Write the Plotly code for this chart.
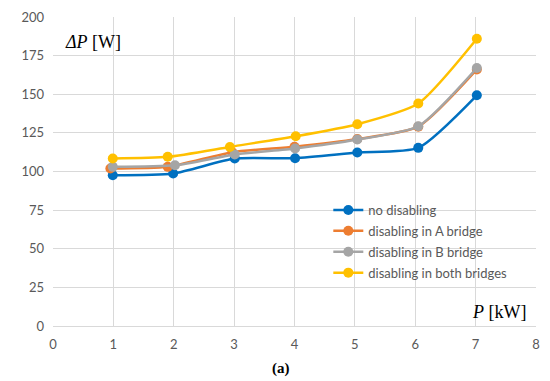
import plotly.graph_objects as go

series_names = ["no disabling", "disabling in A bridge", "disabling in B bridge", "disabling in both bridges"]
x_none = [0.99, 1.99, 3.01, 4.01, 5.04, 6.05, 7.02]
y_none = [97.6, 98.7, 108.4, 108.6, 112.3, 115.3, 149.3]
x_a = [0.95, 1.90, 2.97, 4.00, 5.04, 6.05, 7.02]
y_a = [101.9, 103.0, 112.5, 116.0, 121.0, 129.0, 166.0]
x_b = [0.99, 2.02, 3.01, 4.01, 5.04, 6.05, 7.02]
y_b = [103.0, 104.0, 111.0, 114.9, 120.7, 129.3, 167.0]
x_both = [0.99, 1.90, 2.93, 4.02, 5.04, 6.05, 7.02]
y_both = [108.4, 109.5, 115.9, 122.8, 130.6, 144.0, 185.9]
colors = ["#0070C0", "#ED7D31", "#A5A5A5", "#FFC000"]
x_ticks = [0, 1, 2, 3, 4, 5, 6, 7, 8]
y_ticks = [0, 25, 50, 75, 100, 125, 150, 175, 200]

fig = go.Figure()
for i, (xs, ys) in enumerate([(x_none, y_none), (x_a, y_a), (x_b, y_b), (x_both, y_both)]):
    fig.add_trace(go.Scatter(
        x=xs, y=ys, name=series_names[i], mode="lines+markers",
        line=dict(color=colors[i], width=2.5, shape="spline", smoothing=0.6),
        marker=dict(color=colors[i], size=10),
        legendgroup=str(i),
    ))

grid = "#D9D9D9"
font_col = "#595959"
fig.update_layout(
    width=542, height=373,
    margin=dict(l=45, r=14, t=9, b=55),
    paper_bgcolor="white", plot_bgcolor="white",
    font=dict(family="Lato, Open Sans, sans-serif", size=13, color=font_col),
    showlegend=True,
    legend=dict(x=0.57, y=0.424, xanchor="left", yanchor="top",
                bgcolor="rgba(0,0,0,0)", tracegroupgap=1,
                font=dict(size=13, color=font_col)),
    xaxis=dict(range=[0, 8], tickvals=x_ticks, showgrid=True, gridcolor=grid, gridwidth=1,
               zeroline=False, showline=True, linecolor=grid, linewidth=1, mirror=False,
               ticks="", ticklabelstandoff=6, automargin=False,
               tickfont=dict(size=13, color=font_col)),
    yaxis=dict(range=[0, 200], tickvals=y_ticks, showgrid=True, gridcolor=grid, gridwidth=1,
               zeroline=False, showline=False, ticks="", ticklabelstandoff=8, automargin=False,
               tickfont=dict(size=13, color=font_col)),
    annotations=[
        dict(text="<i>ΔP</i> [W]", xref="paper", yref="paper", x=0.021, y=0.919,
             xanchor="left", yanchor="middle", showarrow=False,
             font=dict(family="Liberation Serif, serif", size=18, color="black")),
        dict(text="<i>P</i> [kW]", xref="paper", yref="paper", x=0.983, y=0.046,
             xanchor="right", yanchor="middle", showarrow=False,
             font=dict(family="Liberation Serif, serif", size=18, color="black")),
        dict(text="<b>(a)</b>", xref="paper", yref="paper", x=0.472, y=-0.139,
             xanchor="center", yanchor="middle", showarrow=False,
             font=dict(family="Liberation Serif, serif", size=15, color="black")),
    ],
)
fig.write_html("out.html")
